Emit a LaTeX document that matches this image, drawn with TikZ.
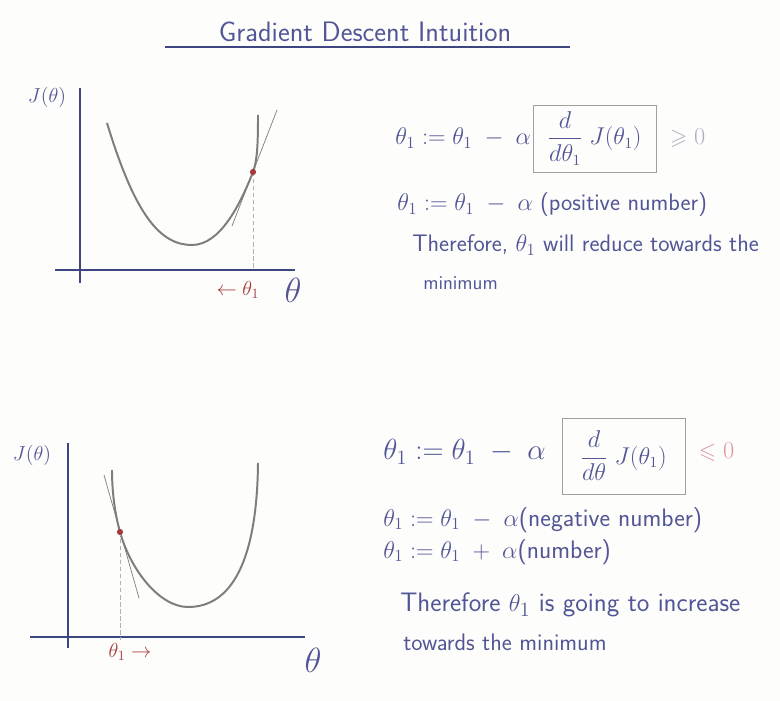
\documentclass[tikz,border=0pt]{standalone}
\usepackage{amsmath,amssymb}
\usetikzlibrary{positioning}
\definecolor{gdPaper}{RGB}{253,253,251}
\definecolor{gdInkBlue}{RGB}{82,86,150}
\definecolor{gdAxisBlue}{RGB}{62,70,130}
\definecolor{gdCurveGray}{RGB}{125,125,125}
\definecolor{gdDotRed}{RGB}{165,60,60}
\definecolor{gdSignGray}{RGB}{175,175,195}
\definecolor{gdSignPink}{RGB}{222,150,160}
\definecolor{gdBoxGray}{RGB}{165,160,160}
\begin{document}
\begin{tikzpicture}[
    x=0.025cm, y=-0.025cm,
    gdAxisStyle/.style={gdAxisBlue, line width=0.9pt},
    gdCurveStyle/.style={gdCurveGray, line width=1.4pt},
    gdTangentStyle/.style={gdCurveGray, line width=0.5pt},
    gdDropStyle/.style={gdCurveGray!60, densely dashed, line width=0.5pt},
    gdText/.style={text=gdInkBlue, anchor=west, inner sep=0pt, font=\sffamily\fontsize{17}{20}\selectfont},
    gdEq/.style={text=gdInkBlue, anchor=west, inner sep=0pt, font=\fontsize{17}{20}\selectfont},
    gdBoxStyle/.style={draw=gdBoxGray, line width=0.6pt, text=gdInkBlue, inner sep=2pt,
        font=\fontsize{16}{19}\selectfont},
    gdMark/.style={text=gdDotRed, inner sep=0pt, font=\fontsize{14}{16}\selectfont}
]
    % papier
    \fill[gdPaper] (0,0) rectangle (780,701);
    \useasboundingbox (0,0) rectangle (780,701);

    % titre
    \node[text=gdInkBlue, font=\sffamily\fontsize{20}{24}\selectfont] (title) at (365,32)
        {Gradient Descent Intuition};
    \draw[gdAxisBlue, line width=0.8pt] (165,47) -- (570,47);

    % graphe du haut (pente positive)
    \draw[gdAxisStyle] (80,88) -- (80,283);
    \draw[gdAxisStyle] (55,270) -- (295,270);
    \node[text=gdInkBlue, font=\fontsize{15}{17}\selectfont] (jTop) at (47,97) {$J(\theta)$};
    \node[text=gdInkBlue, font=\fontsize{24}{26}\selectfont] (thTop) at (293,290) {$\theta$};
    \draw[gdCurveStyle] (107,123) .. controls (135,215) and (160,245) .. (192,245)
        .. controls (220,245) and (240,205) .. (253,172)
        .. controls (257.6,160) and (258,140) .. (258,115);
    \coordinate (ptTop) at (253,172);
    \draw[gdTangentStyle] (232,226) -- (277,110);
    \draw[gdDropStyle] (ptTop) -- (ptTop |- 0,270);
    \fill[gdDotRed] (ptTop) circle (2.2pt);
    \node[gdMark] (stepTop) at (238,290) {$\leftarrow\theta_1$};

    % equations du haut
    \node[gdEq] (eqTopA) at (395,138) {$\theta_1 := \theta_1 \;-\; \alpha$};
    \node[gdBoxStyle, minimum width=3.075cm, minimum height=1.675cm] (boxTop) at (594.5,138.5)
        {$\dfrac{d}{d\theta_1}\;J(\theta_1)$};
    \node[text=gdSignGray, font=\fontsize{16}{19}\selectfont, right=6pt of boxTop] (signTop) {$\geqslant 0$};
    \node[gdEq] (eqTopB) at (397,205) {$\theta_1 := \theta_1 \;-\; \alpha$ \textsf{(positive number)}};
    \node[gdText] (txtTopA) at (412,245) {Therefore, $\theta_1$ will reduce towards the};
    \node[gdText, font=\sffamily\fontsize{14}{16}\selectfont] (txtTopB) at (423,283) {minimum};

    % graphe du bas (pente negative)
    \draw[gdAxisStyle] (68,443) -- (68,648);
    \draw[gdAxisStyle] (30,637) -- (305,637);
    \node[text=gdInkBlue, font=\fontsize{15}{17}\selectfont] (jBot) at (32,455) {$J(\theta)$};
    \node[text=gdInkBlue, font=\fontsize{24}{26}\selectfont] (thBot) at (313,660) {$\theta$};
    \draw[gdCurveStyle] (112,470) .. controls (112,490) and (114.4,512) .. (120,532)
        .. controls (131,571) and (160,607) .. (188,607)
        .. controls (232,607) and (257,560) .. (258,463);
    \coordinate (ptBot) at (120,532);
    \draw[gdTangentStyle] (104,475) -- (139,598);
    \draw[gdDropStyle] (ptBot) -- (ptBot |- 0,640);
    \fill[gdDotRed] (ptBot) circle (2.2pt);
    \node[gdMark] (stepBot) at (130,652) {$\theta_1\rightarrow$};

    % equations du bas
    \node[gdEq, font=\fontsize{20}{23}\selectfont] (eqBotA) at (383,452) {$\theta_1 := \theta_1 \;-\; \alpha$};
    \node[gdBoxStyle, minimum width=3.075cm, minimum height=1.9cm] (boxBot) at (623.5,456)
        {$\dfrac{d}{d\theta}\;J(\theta_1)$};
    \node[text=gdSignPink, font=\fontsize{16}{19}\selectfont, right=6pt of boxBot.east|-eqBotA] (signBot) {$\leqslant 0$};
    \node[gdEq, font=\fontsize{18}{21}\selectfont] (eqBotB) at (383,520) {$\theta_1 := \theta_1 \;-\; \alpha$\textsf{(negative number)}};
    \node[gdEq, font=\fontsize{18}{21}\selectfont] (eqBotC) at (383,552) {$\theta_1 := \theta_1 \;+\; \alpha$\textsf{(number)}};
    \node[gdText, font=\sffamily\fontsize{19}{22}\selectfont] (txtBotA) at (400,605) {Therefore $\theta_1$ is going to increase};
    \node[gdText, font=\sffamily\fontsize{17}{20}\selectfont] (txtBotB) at (403,642) {towards the minimum};
\end{tikzpicture}
\end{document}
